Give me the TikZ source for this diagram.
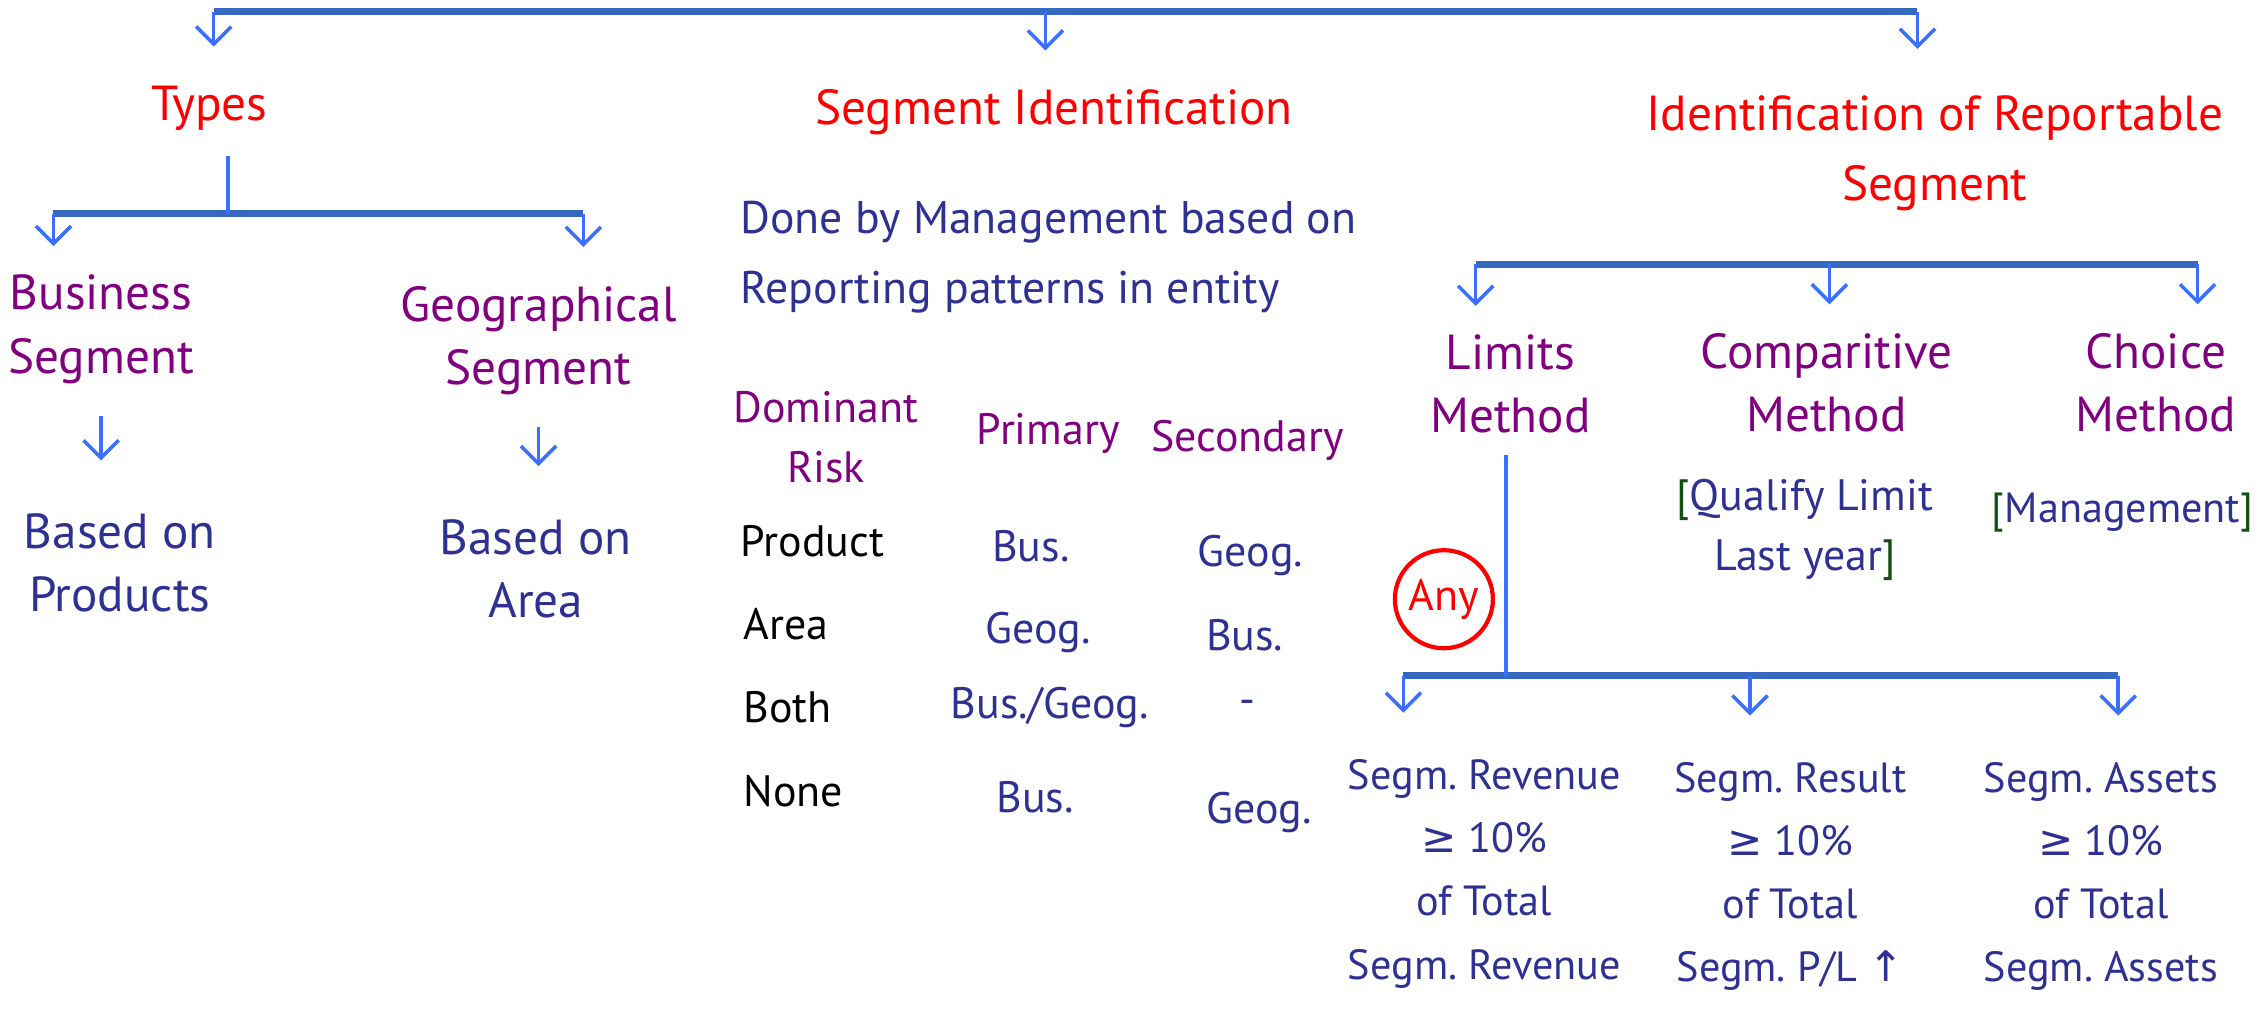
\documentclass[tikz,border=0pt]{standalone}
\usepackage{fontspec}
\setmainfont{PT Sans}
\newfontfamily\symfont{DejaVu Sans}
\usepackage{tikz}
\usetikzlibrary{arrows.meta}
\usetikzlibrary{positioning}

\definecolor{headred}{RGB}{255,0,0}
\definecolor{catpurple}{RGB}{128,0,128}
\definecolor{inkblue}{RGB}{46,49,146}
\definecolor{barblue}{RGB}{53,104,190}
\definecolor{arrblue}{RGB}{58,112,255}
\definecolor{brgreen}{RGB}{20,80,20}

\begin{document}
\frenchspacing
\begin{tikzpicture}
	[x=0.01444cm,y=-0.01444cm,
	every node/.style={font=\fontsize{14}{18}\selectfont,align=center,inner sep=1pt},
	head/.style={text=headred},
	cat/.style={text=catpurple},
	ink/.style={text=inkblue},
	tab/.style={font=\fontsize{12.5}{17}\selectfont},
	low/.style={font=\fontsize{12}{18}\selectfont},
	bar/.style={draw=barblue,line width=2pt},
	arr/.style={draw=arrblue,line width=1pt,-{Straight Barb[length=5pt,width=10pt]}},
	stem/.style={draw=arrblue,line width=1pt}]
	\useasboundingbox (0,0) rectangle (1568,702);

	\node[head] (types) at (145,75) {Types};
	\node[head] (segid) at (730,78) {Segment Identification};
	\node[head,font=\fontsize{14}{20}\selectfont] (repseg) at (1340,106) {Identification of Reportable\\Segment};

	\node[cat] (bus) at (70,228) {Business\\Segment};
	\node[cat] (geo) at (373,236) {Geographical\\Segment};
	\node[ink] (prod) at (83,390) {Based on\\Products};
	\node[ink] (area) at (371,394) {Based on\\Area};

	\node[ink,align=left,anchor=west,font=\fontsize{13}{20}\selectfont] (done) at (510,178) {Done by Management based on\\Reporting patterns in entity};
	\node[cat,tab] (dom) at (572,303) {Dominant\\Risk};
	\node[cat,tab] (prim) at (726,300) {Primary};
	\node[cat,tab] (sec) at (864,305) {Secondary};
	\node[tab,anchor=west] (r1) at (510,375) {Product};
	\node[tab,anchor=west] (r2) at (512,432) {Area};
	\node[tab,anchor=west] (r3) at (512,490) {Both};
	\node[tab,anchor=west] (r4) at (512,548) {None};
	\node[ink,tab] (p1) at (714,378) {Bus.};
	\node[ink,tab] (p2) at (719,438) {Geog.};
	\node[ink,tab] (p3) at (727,490) {Bus./Geog.};
	\node[ink,tab] (p4) at (717,552) {Bus.};
	\node[ink,tab] (s1) at (866,385) {Geog.};
	\node[ink,tab] (s2) at (862,440) {Bus.};
	\node[ink,tab] (s3) at (864,490) {-};
	\node[ink,tab] (s4) at (872,563) {Geog.};

	\node[cat] (lim) at (1046,266) {Limits\\Method};
	\node[cat] (comp) at (1265,265) {Comparitive\\Method};
	\node[cat] (cho) at (1493,265) {Choice\\Method};
	\node[ink,tab] (qual) at (1250,367) {{\color{brgreen}[}Qualify Limit\\Last year{\color{brgreen}]}};
	\node[ink,low] (mgmt) at (1470,355) {{\color{brgreen}[}Management{\color{brgreen}]}};
	\node[circle,draw=headred,text=headred,line width=1.2pt,minimum size=0.98cm,tab] (any) at (1000,415) {Any};

	\node[ink,low] (rev) at (1028,605) {Segm. Revenue\\{\symfont≥} 10\%\\of Total\\Segm. Revenue};
	\node[ink,low] (res) at (1240,607) {Segm. Result\\{\symfont≥} 10\%\\of Total\\Segm. P/L {\symfont↑}};
	\node[ink,low] (ast) at (1455,607) {Segm. Assets\\{\symfont≥} 10\%\\of Total\\Segm. Assets};

	\coordinate (tl) at (148,8);
	\coordinate (tm) at (724,8);
	\coordinate (tr) at (1328,8);
	\coordinate (bl) at (37,148);
	\coordinate (bm) at (158,148);
	\coordinate (br) at (404,148);
	\coordinate (rl) at (1022,183);
	\coordinate (rm) at (1267,183);
	\coordinate (rr) at (1522,183);
	\coordinate (ll) at (972,468);
	\coordinate (lm) at (1212,468);
	\coordinate (lstem) at (1043,468);
	\coordinate (lr) at (1467,468);

	\draw[bar] (tl) -- (tr);
	\draw[bar] (bl) -- (br);
	\draw[bar] (rl) -- (rr);
	\draw[bar] (ll) -- (lr);
	\draw[stem,shorten <=6pt] (types.south -| bm) -- (bm);
	\draw[stem,shorten <=5pt] (lim.south -| lstem) -- (lstem);

	\foreach \from/\to/\gap in
	{tl/types/10pt, tm/segid/10pt, tr/repseg/12pt, bl/bus/7pt, br/geo/10pt,
	 rl/lim/7pt, rm/comp/7pt, rr/cho/7pt, ll/rev/12pt, lm/res/12pt, lr/ast/12pt}
	\draw[arr,shorten >=\gap] (\from) -- (\from |- \to.north);
	\draw[arr,shorten <=8pt,shorten >=14pt] (bus.south) -- (bus.south |- prod.north);
	\draw[arr,shorten <=8pt,shorten >=14pt] (geo.south) -- (geo.south |- area.north);
\end{tikzpicture}
\end{document}
